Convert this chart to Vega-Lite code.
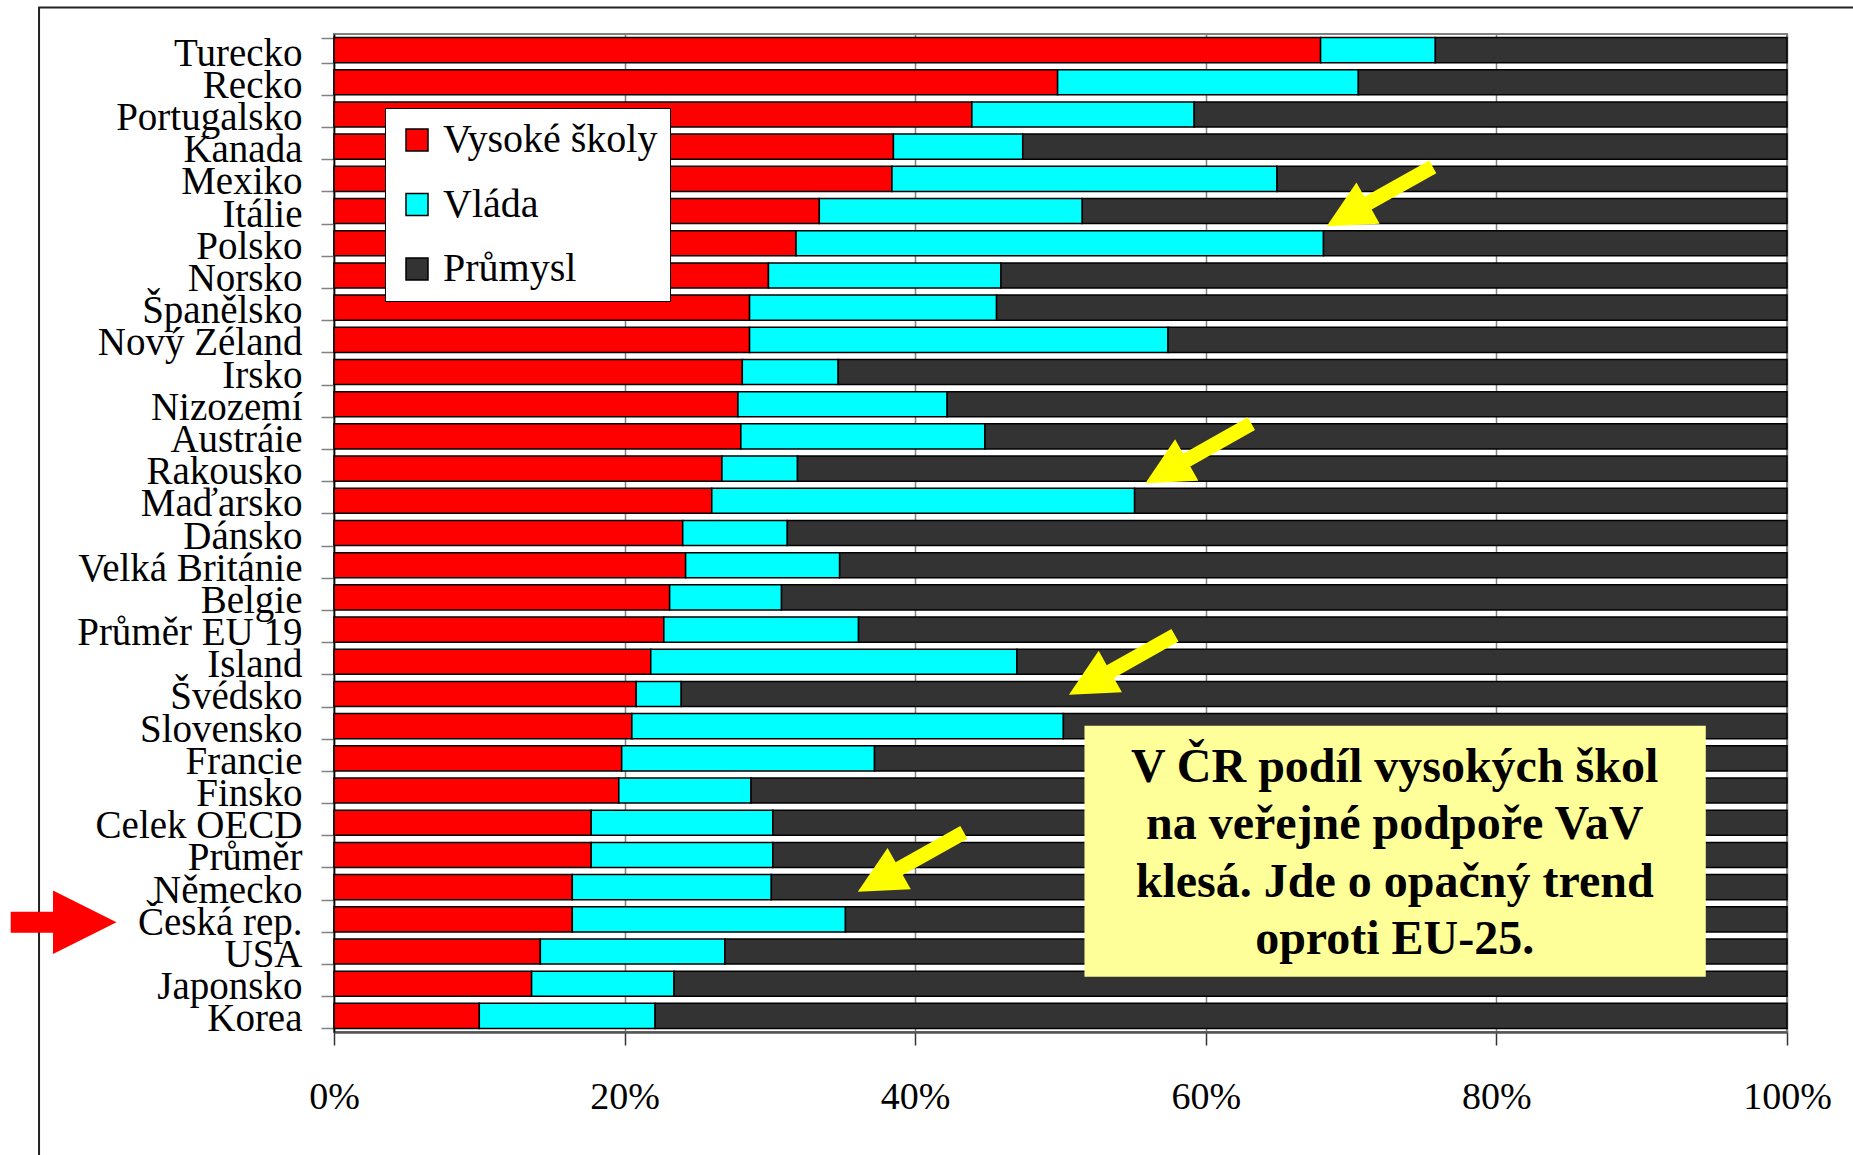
{
  "$schema": "https://vega.github.io/schema/vega-lite/v6.json",
  "width": 1453,
  "height": 998,
  "autosize": {"type": "none"},
  "padding": {"left": 334, "top": 34, "right": 66, "bottom": 123},
  "background": "white",
  "config": {
    "view": {"stroke": "#808080", "strokeWidth": 2},
    "font": "Liberation Serif"
  },
  "datasets": {
    "podil": [
      {"zeme": "Turecko", "zdroj": "Vysoké školy", "podil": 67.9}, {"zeme": "Turecko", "zdroj": "Vláda", "podil": 7.9}, {"zeme": "Turecko", "zdroj": "Průmysl", "podil": 24.2},
      {"zeme": "Recko", "zdroj": "Vysoké školy", "podil": 49.8}, {"zeme": "Recko", "zdroj": "Vláda", "podil": 20.7}, {"zeme": "Recko", "zdroj": "Průmysl", "podil": 29.5},
      {"zeme": "Portugalsko", "zdroj": "Vysoké školy", "podil": 43.9}, {"zeme": "Portugalsko", "zdroj": "Vláda", "podil": 15.3}, {"zeme": "Portugalsko", "zdroj": "Průmysl", "podil": 40.8},
      {"zeme": "Kanada", "zdroj": "Vysoké školy", "podil": 38.5}, {"zeme": "Kanada", "zdroj": "Vláda", "podil": 8.9}, {"zeme": "Kanada", "zdroj": "Průmysl", "podil": 52.6},
      {"zeme": "Mexiko", "zdroj": "Vysoké školy", "podil": 38.4}, {"zeme": "Mexiko", "zdroj": "Vláda", "podil": 26.5}, {"zeme": "Mexiko", "zdroj": "Průmysl", "podil": 35.1},
      {"zeme": "Itálie", "zdroj": "Vysoké školy", "podil": 33.4}, {"zeme": "Itálie", "zdroj": "Vláda", "podil": 18.1}, {"zeme": "Itálie", "zdroj": "Průmysl", "podil": 48.5},
      {"zeme": "Polsko", "zdroj": "Vysoké školy", "podil": 31.8}, {"zeme": "Polsko", "zdroj": "Vláda", "podil": 36.3}, {"zeme": "Polsko", "zdroj": "Průmysl", "podil": 31.9},
      {"zeme": "Norsko", "zdroj": "Vysoké školy", "podil": 29.9}, {"zeme": "Norsko", "zdroj": "Vláda", "podil": 16.0}, {"zeme": "Norsko", "zdroj": "Průmysl", "podil": 54.1},
      {"zeme": "Španělsko", "zdroj": "Vysoké školy", "podil": 28.6}, {"zeme": "Španělsko", "zdroj": "Vláda", "podil": 17.0}, {"zeme": "Španělsko", "zdroj": "Průmysl", "podil": 54.4},
      {"zeme": "Nový Zéland", "zdroj": "Vysoké školy", "podil": 28.6}, {"zeme": "Nový Zéland", "zdroj": "Vláda", "podil": 28.8}, {"zeme": "Nový Zéland", "zdroj": "Průmysl", "podil": 42.6},
      {"zeme": "Irsko", "zdroj": "Vysoké školy", "podil": 28.1}, {"zeme": "Irsko", "zdroj": "Vláda", "podil": 6.6}, {"zeme": "Irsko", "zdroj": "Průmysl", "podil": 65.3},
      {"zeme": "Nizozemí", "zdroj": "Vysoké školy", "podil": 27.8}, {"zeme": "Nizozemí", "zdroj": "Vláda", "podil": 14.4}, {"zeme": "Nizozemí", "zdroj": "Průmysl", "podil": 57.8},
      {"zeme": "Austráie", "zdroj": "Vysoké školy", "podil": 28.0}, {"zeme": "Austráie", "zdroj": "Vláda", "podil": 16.8}, {"zeme": "Austráie", "zdroj": "Průmysl", "podil": 55.2},
      {"zeme": "Rakousko", "zdroj": "Vysoké školy", "podil": 26.7}, {"zeme": "Rakousko", "zdroj": "Vláda", "podil": 5.2}, {"zeme": "Rakousko", "zdroj": "Průmysl", "podil": 68.1},
      {"zeme": "Maďarsko", "zdroj": "Vysoké školy", "podil": 26.0}, {"zeme": "Maďarsko", "zdroj": "Vláda", "podil": 29.1}, {"zeme": "Maďarsko", "zdroj": "Průmysl", "podil": 44.9},
      {"zeme": "Dánsko", "zdroj": "Vysoké školy", "podil": 24.0}, {"zeme": "Dánsko", "zdroj": "Vláda", "podil": 7.2}, {"zeme": "Dánsko", "zdroj": "Průmysl", "podil": 68.8},
      {"zeme": "Velká Británie", "zdroj": "Vysoké školy", "podil": 24.2}, {"zeme": "Velká Británie", "zdroj": "Vláda", "podil": 10.6}, {"zeme": "Velká Británie", "zdroj": "Průmysl", "podil": 65.2},
      {"zeme": "Belgie", "zdroj": "Vysoké školy", "podil": 23.1}, {"zeme": "Belgie", "zdroj": "Vláda", "podil": 7.7}, {"zeme": "Belgie", "zdroj": "Průmysl", "podil": 69.2},
      {"zeme": "Průměr EU 19", "zdroj": "Vysoké školy", "podil": 22.7}, {"zeme": "Průměr EU 19", "zdroj": "Vláda", "podil": 13.4}, {"zeme": "Průměr EU 19", "zdroj": "Průmysl", "podil": 63.9},
      {"zeme": "Island", "zdroj": "Vysoké školy", "podil": 21.8}, {"zeme": "Island", "zdroj": "Vláda", "podil": 25.2}, {"zeme": "Island", "zdroj": "Průmysl", "podil": 53.0},
      {"zeme": "Švédsko", "zdroj": "Vysoké školy", "podil": 20.8}, {"zeme": "Švédsko", "zdroj": "Vláda", "podil": 3.1}, {"zeme": "Švédsko", "zdroj": "Průmysl", "podil": 76.1},
      {"zeme": "Slovensko", "zdroj": "Vysoké školy", "podil": 20.5}, {"zeme": "Slovensko", "zdroj": "Vláda", "podil": 29.7}, {"zeme": "Slovensko", "zdroj": "Průmysl", "podil": 49.8},
      {"zeme": "Francie", "zdroj": "Vysoké školy", "podil": 19.8}, {"zeme": "Francie", "zdroj": "Vláda", "podil": 17.4}, {"zeme": "Francie", "zdroj": "Průmysl", "podil": 62.8},
      {"zeme": "Finsko", "zdroj": "Vysoké školy", "podil": 19.6}, {"zeme": "Finsko", "zdroj": "Vláda", "podil": 9.1}, {"zeme": "Finsko", "zdroj": "Průmysl", "podil": 71.3},
      {"zeme": "Celek OECD", "zdroj": "Vysoké školy", "podil": 17.7}, {"zeme": "Celek OECD", "zdroj": "Vláda", "podil": 12.5}, {"zeme": "Celek OECD", "zdroj": "Průmysl", "podil": 69.8},
      {"zeme": "Průměr", "zdroj": "Vysoké školy", "podil": 17.7}, {"zeme": "Průměr", "zdroj": "Vláda", "podil": 12.5}, {"zeme": "Průměr", "zdroj": "Průmysl", "podil": 69.8},
      {"zeme": "Německo", "zdroj": "Vysoké školy", "podil": 16.4}, {"zeme": "Německo", "zdroj": "Vláda", "podil": 13.7}, {"zeme": "Německo", "zdroj": "Průmysl", "podil": 69.9},
      {"zeme": "Česká rep.", "zdroj": "Vysoké školy", "podil": 16.4}, {"zeme": "Česká rep.", "zdroj": "Vláda", "podil": 18.8}, {"zeme": "Česká rep.", "zdroj": "Průmysl", "podil": 64.8},
      {"zeme": "USA", "zdroj": "Vysoké školy", "podil": 14.2}, {"zeme": "USA", "zdroj": "Vláda", "podil": 12.7}, {"zeme": "USA", "zdroj": "Průmysl", "podil": 73.1},
      {"zeme": "Japonsko", "zdroj": "Vysoké školy", "podil": 13.6}, {"zeme": "Japonsko", "zdroj": "Vláda", "podil": 9.8}, {"zeme": "Japonsko", "zdroj": "Průmysl", "podil": 76.6},
      {"zeme": "Korea", "zdroj": "Vysoké školy", "podil": 10.0}, {"zeme": "Korea", "zdroj": "Vláda", "podil": 12.1}, {"zeme": "Korea", "zdroj": "Průmysl", "podil": 77.9}
    ],
    "sipky": [
      {"x": 71.97, "y": 5.05},
      {"x": 59.49, "y": 13.03},
      {"x": 54.23, "y": 19.6},
      {"x": 39.7, "y": 25.72}
    ]
  },
  "layer": [
    {
      "data": {"values": [{}]},
      "mark": {"type": "rect", "fillOpacity": 0, "stroke": "#222222", "strokeWidth": 2},
      "encoding": {
        "x": {"datum": -20.3, "type": "quantitative"},
        "x2": {"datum": 125},
        "y": {"datum": -0.823, "type": "quantitative", "scale": {"domain": [0, 31], "reverse": true, "nice": false, "zero": false}, "axis": null},
        "y2": {"datum": 40}
      }
    },
    {
      "data": {"name": "podil"},
      "mark": {"type": "bar", "stroke": "black", "strokeWidth": 1.5},
      "encoding": {
        "y": {
          "field": "zeme", "type": "nominal", "sort": null,
          "scale": {"paddingInner": 0.22, "paddingOuter": 0.11},
          "axis": {
            "title": null, "labelFont": "Liberation Serif", "labelFontSize": 39, "labelColor": "black",
            "tickBand": "extent", "tickSize": 13, "tickColor": "#808080", "tickWidth": 1.5,
            "domainColor": "black", "domainWidth": 1.5, "labelPadding": 19, "labelOffset": 3,
            "labelLimit": 500, "grid": false
          }
        },
        "x": {
          "field": "podil", "type": "quantitative", "stack": "zero",
          "scale": {"domain": [0, 100], "nice": false},
          "axis": {
            "title": null, "values": [0, 20, 40, 60, 80, 100], "labelExpr": "datum.value + '%'",
            "labelFont": "Liberation Serif", "labelFontSize": 38, "labelColor": "black", "labelFlush": false,
            "labelPadding": 33, "tickSize": 13, "tickColor": "#333333", "tickWidth": 1.5,
            "domainColor": "#555555", "domainWidth": 2.5,
            "grid": true, "gridColor": "#808080", "gridWidth": 1.5
          }
        },
        "color": {
          "field": "zdroj", "type": "nominal",
          "scale": {"domain": ["Vysoké školy", "Vláda", "Průmysl"], "range": ["#FF0000", "#00FFFF", "#333333"]},
          "legend": {
            "orient": "none", "legendX": 51, "legendY": 74, "title": null,
            "fillColor": "white", "strokeColor": "black", "padding": 12,
            "labelFont": "Liberation Serif", "labelFontSize": 40, "labelColor": "black", "labelLimit": 400,
            "labelOffset": 6, "rowPadding": 24.5,
            "symbolType": "square", "symbolSize": 484, "symbolStrokeColor": "black", "symbolStrokeWidth": 1.5
          }
        },
        "order": {"field": "zdroj", "sort": "descending"}
      }
    },
    {
      "layer": [
        {
          "data": {"values": [{}]},
          "mark": {"type": "rect", "fill": "#FFFF99", "strokeWidth": 0},
          "encoding": {
            "x": {"datum": 51.65, "type": "quantitative"},
            "x2": {"datum": 94.41},
            "y": {"datum": 21.49, "type": "quantitative", "scale": {"domain": [0, 31], "reverse": true, "nice": false, "zero": false}, "axis": null},
            "y2": {"datum": 29.28}
          }
        },
        {
          "data": {"values": [{}]},
          "mark": {
            "type": "text", "font": "Liberation Serif", "fontWeight": "bold", "fontSize": 48,
            "lineHeight": 57.5, "lineBreak": "\n", "align": "center", "baseline": "alphabetic", "color": "black"
          },
          "encoding": {
            "x": {"datum": 73.0, "type": "quantitative"},
            "y": {"datum": 23.22, "type": "quantitative", "scale": {"domain": [0, 31], "reverse": true, "nice": false, "zero": false}, "axis": null},
            "text": {"value": "V ČR podíl vysokých škol\nna veřejné podpoře VaV\nklesá. Jde o opačný trend\noproti EU-25."}
          }
        },
        {
          "data": {"name": "sipky"},
          "mark": {
            "type": "point", "filled": true, "opacity": 1, "color": "#FFFF00", "strokeWidth": 0,
            "shape": "M-1,0L-0.22,-0.39L-0.22,-0.12L1,-0.12L1,0.12L-0.22,0.12L-0.22,0.39Z",
            "size": 14786, "angle": 330.7
          },
          "encoding": {
            "x": {"field": "x", "type": "quantitative"},
            "y": {"field": "y", "type": "quantitative", "scale": {"domain": [0, 31], "reverse": true, "nice": false, "zero": false}, "axis": null}
          }
        },
        {
          "data": {"values": [{}]},
          "mark": {
            "type": "point", "filled": true, "opacity": 1, "color": "#FF0000", "strokeWidth": 0,
            "shape": "M1,0L-0.2,0.6L-0.2,0.2L-1,0.2L-1,-0.2L-0.2,-0.2L-0.2,-0.6Z",
            "size": 11194
          },
          "encoding": {
            "x": {"datum": -18.61, "type": "quantitative"},
            "y": {"datum": 27.59, "type": "quantitative", "scale": {"domain": [0, 31], "reverse": true, "nice": false, "zero": false}, "axis": null}
          }
        }
      ]
    }
  ],
  "resolve": {"scale": {"y": "independent"}}
}
